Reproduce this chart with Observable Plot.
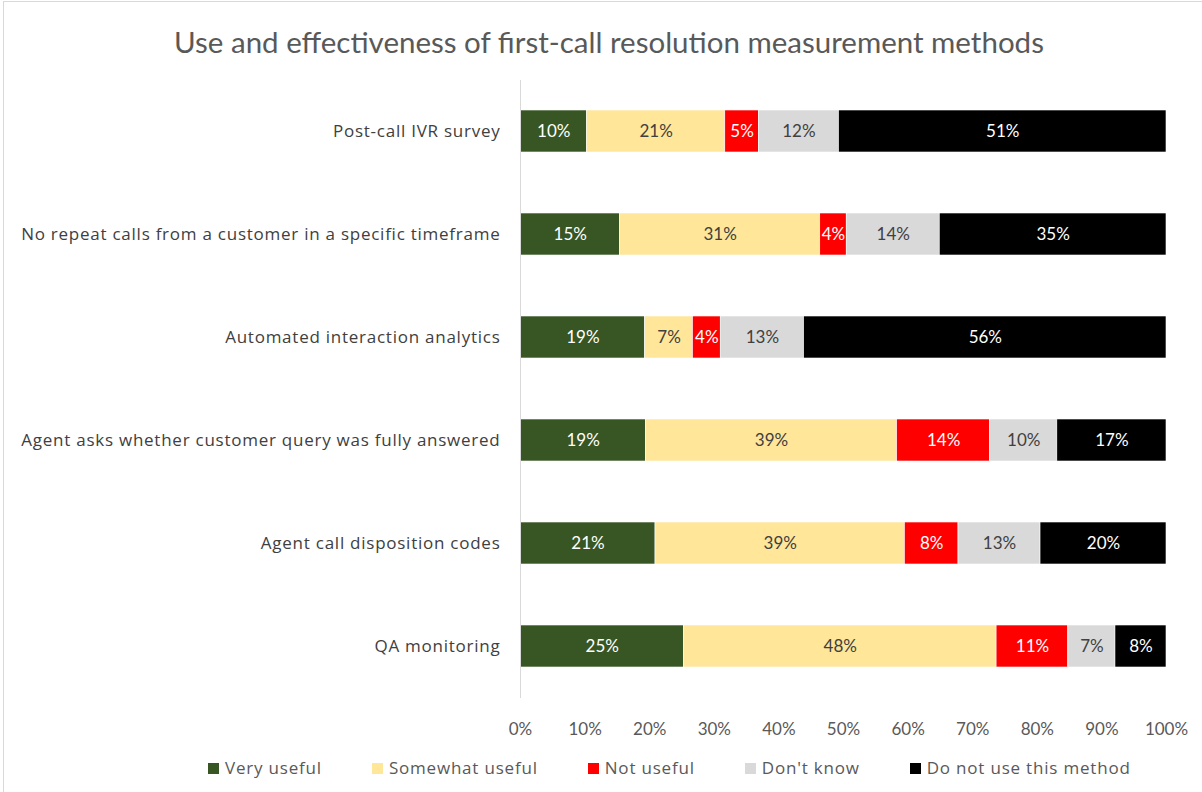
<!DOCTYPE html>
<html>
<head>
<meta charset="utf-8">
<script src="https://cdn.jsdelivr.net/npm/d3@7"></script>
<script src="https://cdn.jsdelivr.net/npm/@observablehq/plot@0.6"></script>
<style>
  html, body { margin: 0; padding: 0; background: #fff; }
  #frame { position: absolute; left: 3px; top: 1px; width: 1210px; height: 800px; border: 1px solid #d9d9d9; box-sizing: border-box; }
  #title { position: absolute; top: 23px; left: 8px; width: 1202px; text-align: center; font-family: Lato, sans-serif; font-size: 29.5px; line-height: 38px; color: #595959; }
  #chart { position: absolute; top: 70px; left: 0; }
  #legend { position: absolute; top: 757px; left: 208px; display: flex; font-family: "Open Sans", sans-serif; font-size: 17px; line-height: 22px; color: #595959; letter-spacing: 0.8px; }
  #legend .item { display: flex; align-items: center; margin-right: 50px; }
  #legend .sw { width: 11px; height: 11px; margin-right: 6px; }
</style>
</head>
<body>
<div id="frame"></div>
<div id="title">Use and effectiveness of first-call resolution measurement methods</div>
<div id="chart"></div>
<div id="legend"></div>
<script>
const methods = [
  "Post-call IVR survey",
  "No repeat calls from a customer in a specific timeframe",
  "Automated interaction analytics",
  "Agent asks whether customer query was fully answered",
  "Agent call disposition codes",
  "QA monitoring"
];
const categories = ["Very useful", "Somewhat useful", "Not useful", "Don't know", "Do not use this method"];
const colors = ["#375623", "#FFE699", "#FF0000", "#D9D9D9", "#000000"];
const labelColors = ["#ffffff", "#404040", "#ffffff", "#404040", "#ffffff"];

const veryUseful     = [10.3, 15.4, 19.3, 19.4, 20.9, 25.3];
const somewhatUseful = [21.4, 31.0,  7.4, 38.9, 38.6, 48.4];
const notUseful      = [ 5.2,  4.1,  4.3, 14.4,  8.3, 11.1];
const dontKnow       = [12.4, 14.4, 12.9, 10.4, 12.7,  7.3];
const doNotUse       = [50.7, 35.1, 56.1, 16.9, 19.5,  7.9];
const xTicks = [0, 10, 20, 30, 40, 50, 60, 70, 80, 90, 100];

const series = [veryUseful, somewhatUseful, notUseful, dontKnow, doNotUse];
const data = [];
methods.forEach((m, i) => {
  series.forEach((s, j) => {
    data.push({method: m, category: categories[j], value: s[i]});
  });
});

const labelColor = d => labelColors[categories.indexOf(d.category)];

const plot = Plot.plot({
  width: 1202,
  height: 680,
  marginLeft: 520,
  marginRight: 36,
  marginTop: 10,
  marginBottom: 52,
  style: { fontFamily: "Lato, sans-serif", fontSize: "17px", background: "transparent" },
  x: { domain: [0, 100], ticks: xTicks, tickFormat: d => d + "%" },
  y: { domain: methods, paddingInner: 0.59, paddingOuter: 0.295 },
  color: { domain: categories, range: colors },
  marks: [
    Plot.axisX({ ticks: xTicks, tickFormat: d => d + "%", tickSize: 0, tickPadding: 24, label: null, fontFamily: "Lato, sans-serif", fontSize: 17, color: "#595959" }),
    Plot.axisY({ tickSize: 0, tickPadding: 20, label: null, fontFamily: "'Open Sans', sans-serif", fontSize: 17, color: "#404040" }),
    Plot.barX(data, Plot.stackX({ x: "value", y: "method", z: "category", fill: "category", stroke: "#ffffff", strokeWidth: 0.6 })),
    Plot.text(data, Plot.stackX({ x: "value", y: "method", z: "category", text: d => Math.round(d.value) + "%", fill: labelColor, fontSize: 17, fontFamily: "Lato, sans-serif" })),
    Plot.ruleX([0], { stroke: "#d9d9d9", strokeWidth: 1 })
  ]
});
d3.select(plot).selectAll("text").filter(function() {
  return methods.includes(this.textContent);
}).attr("letter-spacing", "0.75px");
document.getElementById("chart").appendChild(plot);

const legend = document.getElementById("legend");
categories.forEach((c, i) => {
  const item = document.createElement("div");
  item.className = "item";
  const sw = document.createElement("div");
  sw.className = "sw";
  sw.style.background = colors[i];
  const t = document.createElement("span");
  t.textContent = c;
  item.appendChild(sw);
  item.appendChild(t);
  legend.appendChild(item);
});
</script>
</body>
</html>
